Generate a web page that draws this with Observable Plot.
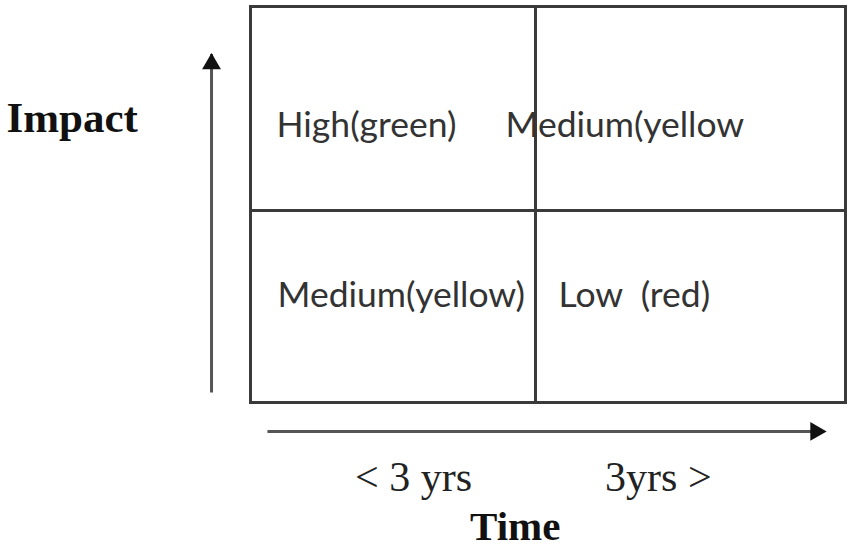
<!DOCTYPE html>
<html><head><meta charset="utf-8">
<script src="https://cdn.jsdelivr.net/npm/d3@7"></script>
<script src="https://cdn.jsdelivr.net/npm/@observablehq/plot@0.6"></script>
<style>
body{margin:0;background:#fff}
svg text{white-space:pre}
</style></head>
<body><div id="chart"></div>
<script>
// ---- data ----
const timeLabels = ["< 3 yrs", "3yrs >"];
const axisTitles = ["Impact", "Time"];
const quadLabels = ["High(green)", "Medium(yellow", "Medium(yellow)", "Low  (red)"];
const quadTime = [0, 1, 0, 1];     // column: 0 = < 3 yrs, 1 = 3yrs >
const quadImpact = [1, 1, 0, 0];   // row: 1 = high impact, 0 = low impact
const timeSplit = 0.958;           // divider between columns (axis units 0..2)
const impactSplit = 0.97;          // divider between rows (axis units 0..2)

const ink = "#3a3a3a";
const sans = "Lato, 'Open Sans', sans-serif";
const serif = "'Liberation Serif', 'DejaVu Serif', serif";

const colStart = c => (c === 0 ? 0 : timeSplit);
const rowMid = r => (r === 1 ? (impactSplit + 2) / 2 : impactSplit / 2);

const quad = quadLabels.map((label, i) => ({label, x: colStart(quadTime[i]), y: rowMid(quadImpact[i])}));
const labelMark = (i, dx, dy) => Plot.text([quad[i]], {
  x: "x", y: "y", text: "label", textAnchor: "start", lineAnchor: "middle",
  dx, dy, fontSize: 35.5, fontFamily: sans, fill: "#333"
});

const chart = Plot.plot({
  width: 852, height: 548,
  marginLeft: 250, marginRight: 7, marginTop: 6, marginBottom: 146,
  x: {domain: [0, 2], axis: null},
  y: {domain: [0, 2], axis: null},
  clip: false,
  marks: [
    Plot.frame({stroke: ink, strokeWidth: 3}),
    Plot.ruleX([timeSplit], {stroke: ink, strokeWidth: 3}),
    Plot.ruleY([impactSplit], {stroke: ink, strokeWidth: 3}),
    labelMark(0, 26, 17),
    labelMark(1, -30, 17),
    labelMark(2, 27, -11),
    labelMark(3, 23, -11),
    // Impact arrow (vertical)
    Plot.link([0], {x1: -0.131, x2: -0.131, y1: 0.05, y2: 1.76, stroke: "#555", strokeWidth: 3}),
    Plot.dot([0], {x: -0.131, y: 1.71, symbol: "triangle", r: 7, fill: "#111", stroke: "none"}),
    // Time arrow (horizontal)
    Plot.link([0], {x1: 0.057, x2: 1.92, y1: -0.146, y2: -0.146, stroke: "#555", strokeWidth: 3}),
    Plot.dot([0], {x: 1.90, y: -0.146, symbol: "triangle", r: 7, rotate: 90, fill: "#111", stroke: "none"}),
    // axis titles and time labels
    Plot.text([axisTitles[0]], {x: -0.82, y: 1.434, text: d => d, textAnchor: "start", fontSize: 43, fontWeight: "bold", fontFamily: serif, fill: "#111"}),
    Plot.text([timeLabels[0]], {x: 0.548, y: -0.379, text: d => d, fontSize: 42, fontFamily: serif, fill: "#222"}),
    Plot.text([timeLabels[1]], {x: 1.371, y: -0.379, text: d => d, fontSize: 42, fontFamily: serif, fill: "#222"}),
    Plot.text([axisTitles[1]], {x: 0.89, y: -0.626, text: d => d, fontSize: 41, fontWeight: "bold", fontFamily: serif, fill: "#111"})
  ]
});
document.getElementById("chart").appendChild(chart);
</script>
</body></html>
